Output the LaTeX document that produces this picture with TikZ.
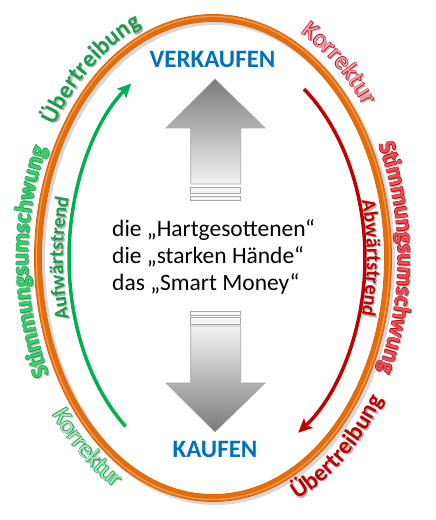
\documentclass[tikz,border=0pt]{standalone}
\usepackage{fontspec}
\setmainfont{Carlito}
\usepackage{tikz}
\usetikzlibrary{arrows.meta,positioning,calc,decorations.text}
\definecolor{CycOrange}{HTML}{E46C0A}
\definecolor{CycOrangeDark}{HTML}{CC5E08}
\definecolor{CycOrangeLight}{HTML}{F8B070}
\definecolor{CycBlue}{HTML}{0070C0}
\definecolor{CycGreen}{HTML}{00B050}
\definecolor{CycGreenDeep}{HTML}{1B9E4B}
\definecolor{CycGreenBright}{HTML}{3AD06E}
\definecolor{CycGreenPale}{HTML}{A6ECC0}
\definecolor{CycRed}{HTML}{C00000}
\definecolor{CycRedBright}{HTML}{E8505A}
\definecolor{CycRedPale}{HTML}{F4A4AC}
% text on an elliptical arc round the centre (213,262)
\newcommand{\ArcText}[8][0,0]{%
  \path[decorate,decoration={text along path,text align=center,text color=#2,text={|#3|#8}}]
    ([shift={(#1)},shift={(#6:#4 and #5)}]213,262) arc[start angle=#6,end angle=#7,x radius=#4,y radius=#5];}
\newcommand{\PlainArc}[7]{%
  \ArcText[1.3,-1.3]{black!30}{#2}{#3}{#4}{#5}{#6}{#7}%
  \ArcText{#1}{#2}{#3}{#4}{#5}{#6}{#7}}
\newcommand{\OutlineArc}[8]{%
  \ArcText[1.5,-1.5]{black!30}{#3}{#4}{#5}{#6}{#7}{#8}%
  \ArcText[0.6,0]{#1}{#3}{#4}{#5}{#6}{#7}{#8}%
  \ArcText[-0.6,0]{#1}{#3}{#4}{#5}{#6}{#7}{#8}%
  \ArcText[0,0.6]{#1}{#3}{#4}{#5}{#6}{#7}{#8}%
  \ArcText[0,-0.6]{#1}{#3}{#4}{#5}{#6}{#7}{#8}%
  \ArcText{#2}{#3}{#4}{#5}{#6}{#7}{#8}}

\begin{document}
\begin{tikzpicture}[x=1pt,y=1pt,
    ring/.style={line width=7pt,CycOrange},
    trend/.style={line width=3.5pt,-{Stealth[length=14pt,width=13pt,inset=3pt]}},
    bigarrow/.style={draw=black!35,line width=0.6pt},
    stripe/.style={draw=black!35,fill=black!4,line width=0.6pt},
    signal/.style={font=\fontsize{25}{30}\selectfont\bfseries,text=CycBlue,inner sep=0pt},
    crowd/.style={font=\fontsize{23.5}{28}\selectfont,inner sep=0pt,anchor=base west}
  ]
    \useasboundingbox[fill=white] (0,0) rectangle (436,520);
    \coordinate (ctr) at (213,262);
    % ring with shadow and shine
    \draw[line width=9pt,black!25,opacity=0.6] (215.5,259.5) ellipse[x radius=175,y radius=240];
    \draw[line width=7.8pt,CycOrangeDark] (ctr) ellipse[x radius=175,y radius=240];
    \draw[ring] (ctr) ellipse[x radius=175,y radius=240];
    \draw[line width=1.3pt,CycOrangeLight,opacity=0.7] (ctr) ellipse[x radius=176.5,y radius=241.5];
    % trends
    \draw[trend,CycGreen] ([shift={(232.6:144 and 212)}]ctr) arc[start angle=232.6,end angle=124.6,x radius=144,y radius=212];
    \draw[trend,CycRed] ([shift={(53.2:152 and 211)}]ctr) arc[start angle=53.2,end angle=-55.9,x radius=152,y radius=211];
    % big arrows
    \draw[bigarrow,top color=black!52,bottom color=black!5]
      (215,441) -- (265,392) -- (240.7,392) -- (240.7,336) -- (190.7,336) -- (190.7,392) -- (166,392) -- cycle;
    \draw[stripe] (190.7,327) rectangle (240.7,333);
    \draw[stripe] (190.7,320) rectangle (240.7,324);
    \draw[bigarrow,top color=black!5,bottom color=black!52]
      (215,88) -- (265,137) -- (240.7,137) -- (240.7,194) -- (190.7,194) -- (190.7,137) -- (166,137) -- cycle;
    \draw[stripe] (190.7,196) rectangle (240.7,203);
    \draw[stripe] (190.7,205) rectangle (240.7,209);
    % labels
    \node[signal,anchor=base] (sell) at (212.5,452) {VERKAUFEN};
    \node[signal,anchor=base] (buy) at (215,62) {KAUFEN};
    \node[crowd] (l1) at (112,283) {die „Hartgesottenen“};
    \node[crowd] (l2) at (112,256.5) {die „starken Hände“};
    \node[crowd] (l3) at (112,229) {das „Smart Money“};
    % words round the ring
    \PlainArc{CycGreenDeep}{\fontsize{24}{24}\selectfont\bfseries}{186}{251}{162}{95}{Übertreibung}
    \OutlineArc{CycGreenDeep}{CycGreenBright}{\fontsize{24}{24}\selectfont\bfseries}{185}{251}{221}{141}{Stimmungsumschwung}
    \OutlineArc{CycGreenDeep}{CycGreenPale}{\fontsize{25}{25}\selectfont}{199}{264}{209}{249}{Korrektur}
    \OutlineArc{CycRed}{CycRedPale}{\fontsize{25}{25}\selectfont}{188}{254}{70}{30}{Korrektur}
    \OutlineArc{CycRed}{CycRedBright}{\fontsize{24}{24}\selectfont\bfseries}{185}{251}{40}{-40}{Stimmungsumschwung}
    \PlainArc{CycRed}{\fontsize{24}{24}\selectfont\bfseries}{201}{266}{-69}{-29}{Übertreibung}
    \PlainArc{CycGreenDeep}{\fontsize{20}{20}\selectfont\bfseries}{150}{216}{205}{155}{Aufwärtstrend}
    \PlainArc{CycRed}{\fontsize{20}{20}\selectfont\bfseries}{154}{216}{25}{-25}{Abwärtstrend}
  \end{tikzpicture}
\end{document}
